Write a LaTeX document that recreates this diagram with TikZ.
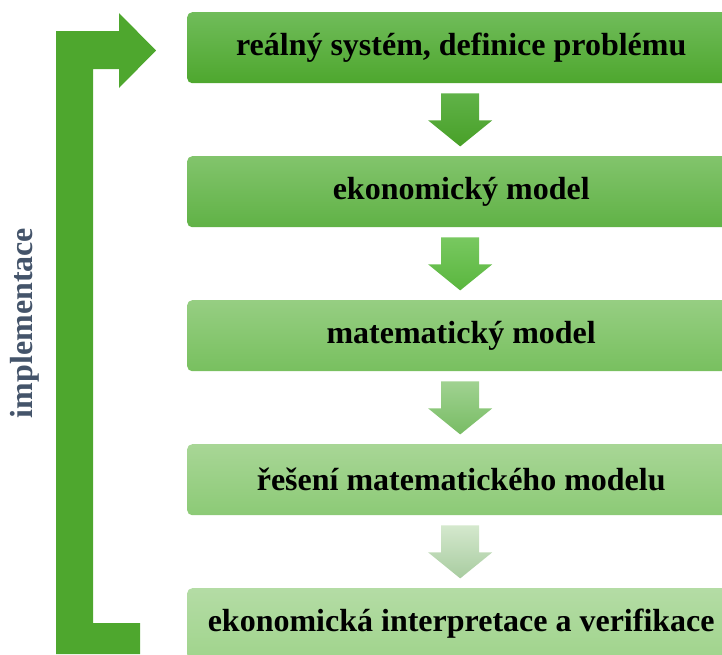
\documentclass[tikz,border=0pt]{standalone}
\usepackage{fontspec}
\setmainfont{Liberation Serif}
\usetikzlibrary{calc}
\definecolor{gr}{RGB}{78,167,46}
\definecolor{slate}{RGB}{68,84,106}
\definecolor{bAt}{RGB}{112,188,90}\definecolor{bAb}{RGB}{78,167,46}
\definecolor{bBt}{RGB}{130,196,108}\definecolor{bBb}{RGB}{96,178,70}
\definecolor{bCt}{RGB}{150,206,130}\definecolor{bCb}{RGB}{120,192,95}
\definecolor{bDt}{RGB}{168,214,150}\definecolor{bDb}{RGB}{140,202,118}
\definecolor{bEt}{RGB}{180,220,165}\definecolor{bEb}{RGB}{160,212,140}
\definecolor{aAt}{RGB}{96,178,72}\definecolor{aAb}{RGB}{72,160,40}
\definecolor{aBt}{RGB}{120,200,96}\definecolor{aBb}{RGB}{90,182,62}
\definecolor{aCt}{RGB}{160,210,145}\definecolor{aCb}{RGB}{120,188,100}
\definecolor{aDt}{RGB}{212,232,205}\definecolor{aDb}{RGB}{168,204,160}
\newcommand\blockarr[3]{\path[top color=#2,bottom color=#3] ($(#1.south)+(-20,10)$) -- ++(38,0) -- ++(0,27) -- ++(13,0) -- ++(-32,26) -- ++(-32,-26) -- ++(13,0) -- cycle;}
\begin{document}
\begin{tikzpicture}[x=1pt,y=-1pt,
  box/.style={rounded corners=5pt, minimum width=548pt, minimum height=71pt, inner sep=0pt,
    font=\fontsize{32}{37}\selectfont\bfseries, anchor=north west, text=black}]
\useasboundingbox (0,0) rectangle (722,654);
\clip (0,0) rectangle (722,654);
\node[box, top color=bAt, bottom color=bAb] (b1) at (187,12) {reálný systém, definice problému};
\node[box, top color=bBt, bottom color=bBb] (b2) at (187,156) {ekonomický model};
\node[box, top color=bCt, bottom color=bCb] (b3) at (187,300) {matematický model};
\node[box, top color=bDt, bottom color=bDb] (b4) at (187,444) {řešení matematického modelu};
\node[box, top color=bEt, bottom color=bEb] (b5) at (187,588) {ekonomická interpretace a verifikace};
\blockarr{b1}{aAt}{aAb}
\blockarr{b2}{aBt}{aBb}
\blockarr{b3}{aCt}{aCb}
\blockarr{b4}{aDt}{aDb}
\fill[gr] (56,654) -- (56,31) -- (119,31) -- (119,13) -- (156,50.5) -- (119,88) -- (119,69) -- (93,69) -- (93,623) -- (140,623) -- (140,654) -- cycle;
\node[rotate=90, text=slate, font=\fontsize{32}{37}\selectfont\bfseries] (impl) at (25,323) {implementace};
\end{tikzpicture}
\end{document}
